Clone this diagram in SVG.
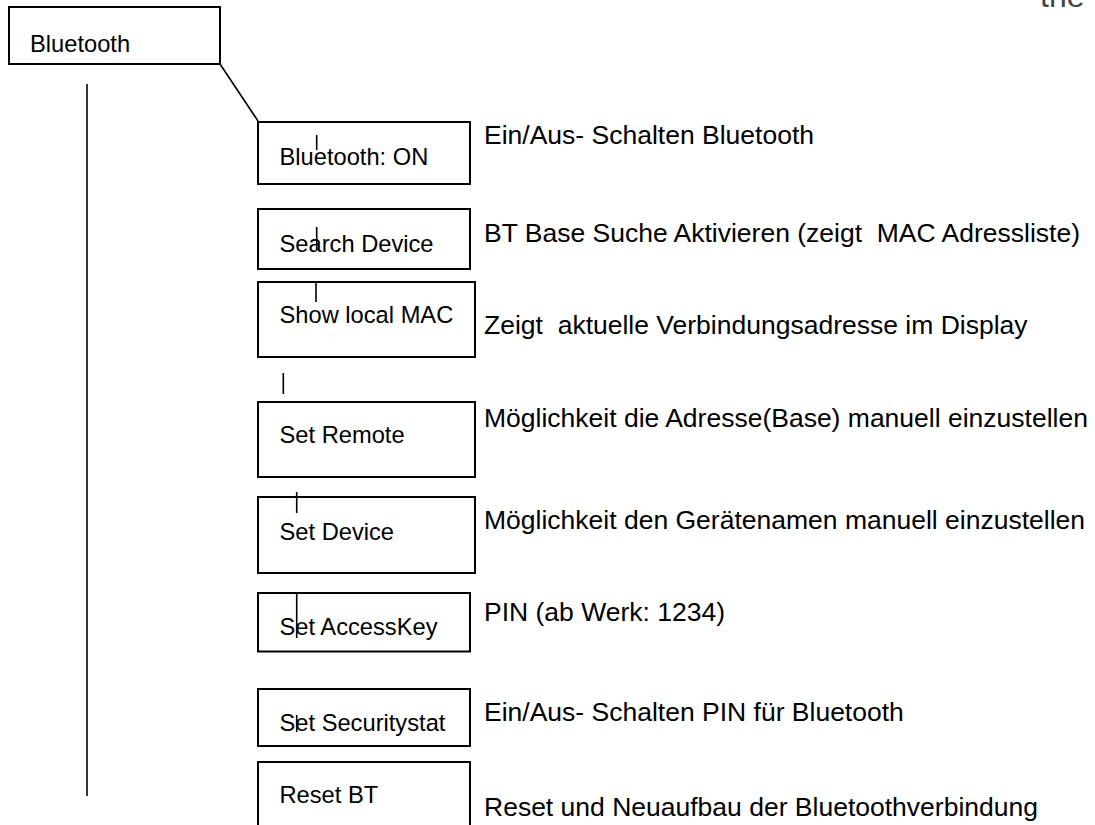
<svg xmlns="http://www.w3.org/2000/svg" width="1095" height="825" viewBox="0 0 1095 825">
<style>
.box{fill:#fff;stroke:#000;stroke-width:2}
.lbl{font-family:"Liberation Sans",Arial,sans-serif;font-size:23.7px;fill:#000}
.desc{font-family:"Liberation Sans",Arial,sans-serif;font-size:26.5px;fill:#000;white-space:pre}
.ln{stroke:#000;stroke-width:1.6;fill:none}
</style>
<rect width="1095" height="825" fill="#fff"/>
<text x="1040" y="7" style="font-family:'Liberation Sans',Arial,sans-serif;font-size:32px;fill:#444">the</text>
<g id="connectors">
<line class="ln" x1="87" y1="84" x2="87" y2="796"/>
<line class="ln" x1="220" y1="64" x2="258" y2="121"/>
</g>
<g id="n-bluetooth"><rect class="box" x="9" y="7" width="211" height="57"/><text class="lbl" x="30" y="52">Bluetooth</text></g>
<g id="n-bton"><rect class="box" x="258" y="122" width="212" height="62"/><text class="lbl" x="279.5" y="165">Bluetooth: ON</text><line class="ln" x1="316.7" y1="135" x2="316.7" y2="150"/></g>
<g id="n-search"><rect class="box" x="258" y="209" width="212" height="60"/><text class="lbl" x="279.5" y="251.7">Search Device</text><line class="ln" x1="316.7" y1="227" x2="316.7" y2="250"/></g>
<g id="n-mac"><rect class="box" x="258" y="282" width="217" height="75"/><text class="lbl" x="279.5" y="323">Show local MAC</text><line class="ln" x1="316" y1="283" x2="316" y2="302"/></g>
<line class="ln" x1="283.3" y1="373" x2="283.3" y2="394"/>
<g id="n-remote"><rect class="box" x="258" y="402" width="217" height="75"/><text class="lbl" x="279.5" y="443">Set Remote</text></g>
<g id="n-device"><rect class="box" x="258" y="497" width="217" height="76"/><text class="lbl" x="279.5" y="540">Set Device</text><line class="ln" x1="296.7" y1="492" x2="296.7" y2="513"/></g>
<g id="n-access"><rect class="box" x="258" y="593" width="212" height="58.5"/><text class="lbl" x="279.5" y="635">Set AccessKey</text><line class="ln" x1="296.7" y1="593" x2="296.7" y2="638"/></g>
<g id="n-sec"><rect class="box" x="258" y="689" width="212" height="57"/><text class="lbl" x="279.5" y="731">Set Securitystat</text><line class="ln" x1="296.7" y1="715" x2="296.7" y2="732"/></g>
<g id="n-reset"><rect class="box" x="258" y="762" width="212" height="80"/><text class="lbl" x="279.5" y="803">Reset BT</text></g>
<g id="descriptions">
<text class="desc" x="484" y="144">Ein/Aus- Schalten Bluetooth</text>
<text class="desc" x="484" y="242">BT Base Suche Aktivieren (zeigt  MAC Adressliste)</text>
<text class="desc" x="484" y="334">Zeigt  aktuelle Verbindungsadresse im Display</text>
<text class="desc" x="484" y="427">Möglichkeit die Adresse(Base) manuell einzustellen</text>
<text class="desc" x="484" y="529">Möglichkeit den Gerätenamen manuell einzustellen</text>
<text class="desc" x="484" y="621">PIN (ab Werk: 1234)</text>
<text class="desc" x="484" y="721">Ein/Aus- Schalten PIN für Bluetooth</text>
<text class="desc" x="484" y="816">Reset und Neuaufbau der Bluetoothverbindung</text>
</g>
</svg>
